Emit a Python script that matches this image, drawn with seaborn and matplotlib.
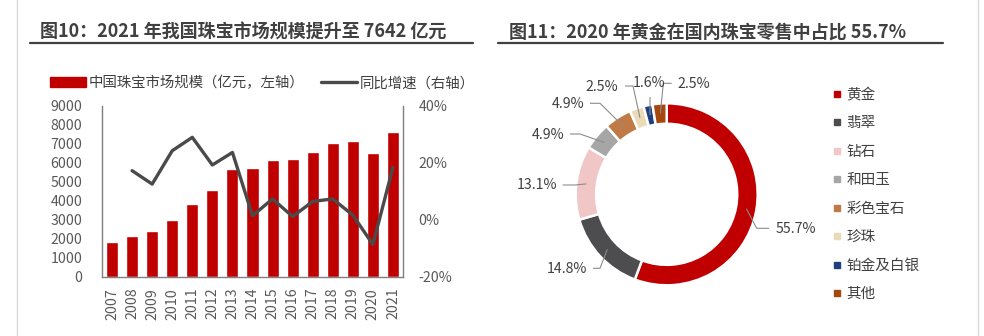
import numpy as np
import pandas as pd
import seaborn as sns
import matplotlib.pyplot as plt
from matplotlib.lines import Line2D
from matplotlib.patches import Patch

# ---------------- data ----------------
years = [str(y) for y in range(2007, 2022)]
market_size = [1840, 2160, 2420, 2980, 3840, 4580, 5650, 5700, 6120, 6180,
               6560, 7040, 7120, 6510, 7642]
growth_years = years[1:]
growth_pct = [17.2, 12.5, 24.2, 28.9, 19.2, 23.6, 1.4, 7.3, 1.1, 6.4,
              7.3, 1.6, -8.7, 18.4]

categories = ['黄金', '翡翠', '钻石', '和田玉', '彩色宝石', '珍珠', '铂金及白银', '其他']
shares = [55.7, 14.8, 13.1, 4.9, 4.9, 2.5, 1.6, 2.5]

title_left = '图10：2021 年我国珠宝市场规模提升至 7642 亿元'
title_right = '图11：2020 年黄金在国内珠宝零售中占比 55.7%'
bar_label = '中国珠宝市场规模（亿元，左轴）'
line_label = '同比增速（右轴）'

# ---------------- style ----------------
colors = ['#C00000', '#4D4D4F', '#F0C6C6', '#A6A6A6', '#C07A45',
          '#EADBB8', '#1F3F7F', '#A5470F']
RED = '#C00000'
LINE = '#4A4A4A'
TXT = '#404040'
TICK = '#595959'

sns.set_theme(style='white')
plt.rcParams['font.family'] = ['Noto Sans CJK SC', 'DejaVu Sans']

W, H = 984, 336
fig = plt.figure(figsize=(W / 100, H / 100), dpi=100)


def fx(px):
    return px / W


def fy(py):
    return 1 - py / H


# ---------------- left: bar + line ----------------
ax = fig.add_axes([fx(102), fy(276.7), (403 - 102) / W, (276.7 - 105.7) / H])
df = pd.DataFrame({'year': years, 'size': market_size})
sns.barplot(data=df, x='year', y='size', color=RED, saturation=1,
            width=0.6, ax=ax)
ax.set_xlim(-0.5, len(years) - 0.5)
ax.set_ylim(0, 9000)
ax.set_yticks(range(0, 9001, 1000))
ax.set_xlabel('')
ax.set_ylabel('')
ax.tick_params(axis='y', length=0, pad=14, labelsize=10.2, labelcolor=TICK)
ax.tick_params(axis='x', length=0, pad=8, labelsize=10.2, labelcolor=TICK,
               labelrotation=90)
for s in ['left', 'bottom']:
    ax.spines[s].set_color('#7F7F7F')
    ax.spines[s].set_linewidth(1)
ax.spines['top'].set_visible(False)
ax.spines['right'].set_visible(False)

ax2 = ax.twinx()
pos = [years.index(y) for y in growth_years]
sns.lineplot(x=pos, y=growth_pct, ax=ax2, color=LINE, linewidth=2.4)
ax2.set_ylim(-20, 40)
ax2.set_yticks([-20, 0, 20, 40])
ax2.yaxis.set_major_formatter(lambda v, p: f'{v:.0f}%')
ax2.tick_params(axis='y', length=0, pad=11, labelsize=10.2, labelcolor=TICK)
ax2.set_ylabel('')
for s in ['left', 'bottom', 'top']:
    ax2.spines[s].set_visible(False)
ax2.spines['right'].set_color('#7F7F7F')
ax2.spines['right'].set_linewidth(1)
ax2.set_xlim(-0.5, len(years) - 0.5)

fig.legend(handles=[Patch(color=RED, label=bar_label),
                    Line2D([], [], color=LINE, lw=2.4, label=line_label)],
           loc='center left', bbox_to_anchor=(fx(50), fy(83)), ncol=2,
           frameon=False, handlelength=2.5, handleheight=0.75,
           handletextpad=0.2, columnspacing=1.1, borderpad=0,
           borderaxespad=0, fontsize=10.4, labelcolor=TXT)

# ---------------- right: donut ----------------
CX, CY, R = 666.7, 194.3, 91.0
L, Rr, T, B = 500, 833, 5, 331
axp = fig.add_axes([fx(L), fy(B), (Rr - L) / W, (B - T) / H])
wedges, _ = axp.pie(shares, colors=colors, startangle=90, counterclock=False,
                    radius=1, wedgeprops=dict(width=0.225, edgecolor='white',
                                              linewidth=1.8))
axp.set_xlim((L - CX) / R, (Rr - CX) / R)
axp.set_ylim((CY - B) / R, (CY - T) / R)
axp.set_aspect('auto')
axp.axis('off')


def d(px, py):
    return ((px - CX) / R, (CY - py) / R)


# label layout (pixel positions): elbow, line end, text anchor, alignment
layout = [
    ((756.7, 228.3), (769, 228.3), (775.7, 229.3), 'left'),
    ((600, 268.3), (593, 268.3), (587, 269.3), 'right'),
    ((575, 185), (562.7, 185), (557.7, 185), 'right'),
    ((580, 134), (570, 134), (564, 135), 'right'),
    ((600, 103.3), (590, 103.3), (584.3, 104.3), 'right'),
    ((633, 86), (625, 86), (618.3, 87.3), 'right'),
    ((650, 97), (650, 97), (649.5, 83.3), 'center'),
    ((663.3, 83.3), (671.7, 83.3), (677.7, 84), 'left'),
]
for w, v, (el, en, tp, ha) in zip(wedges, shares, layout):
    mid = np.deg2rad((w.theta1 + w.theta2) / 2)
    sx, sy = 0.89 * np.cos(mid), 0.89 * np.sin(mid)
    ex, ey = d(*el)
    nx, ny = d(*en)
    axp.plot([sx, ex, nx], [sy, ey, ny], color='#8C8C8C', lw=0.8,
             solid_capstyle='butt')
    tx, ty = d(*tp)
    axp.text(tx, ty, f'{v:.1f}%', ha=ha, va='center', fontsize=10.2,
             color=TXT)

handles = [Line2D([], [], marker='s', ls='', color=c, markersize=4,
                  label=cat) for c, cat in zip(colors, categories)]
fig.legend(handles=handles, loc='center left',
           bbox_to_anchor=(fx(833), fy(194.5)), frameon=False,
           handlelength=0.5, handletextpad=0.4, labelspacing=0.99,
           borderpad=0, borderaxespad=0, fontsize=10.5, labelcolor=TXT)

# ---------------- titles, rules, borders ----------------
fig.text(fx(40), fy(38), title_left, fontsize=13, fontweight='bold',
         color=TXT, va='baseline', ha='left')
fig.text(fx(509), fy(38), title_right, fontsize=13, fontweight='bold',
         color=TXT, va='baseline', ha='left')
for x0, x1 in [(30, 473), (498, 943)]:
    fig.add_artist(Line2D([fx(x0), fx(x1)], [fy(42.7), fy(42.7)],
                          color=TXT, lw=1.6, transform=fig.transFigure))
for xb in [17, 978]:
    fig.add_artist(Line2D([fx(xb), fx(xb)], [0, 1], color='#D9D9D9',
                          lw=1, transform=fig.transFigure))

fig.savefig('out.png', dpi=100, facecolor='white')
